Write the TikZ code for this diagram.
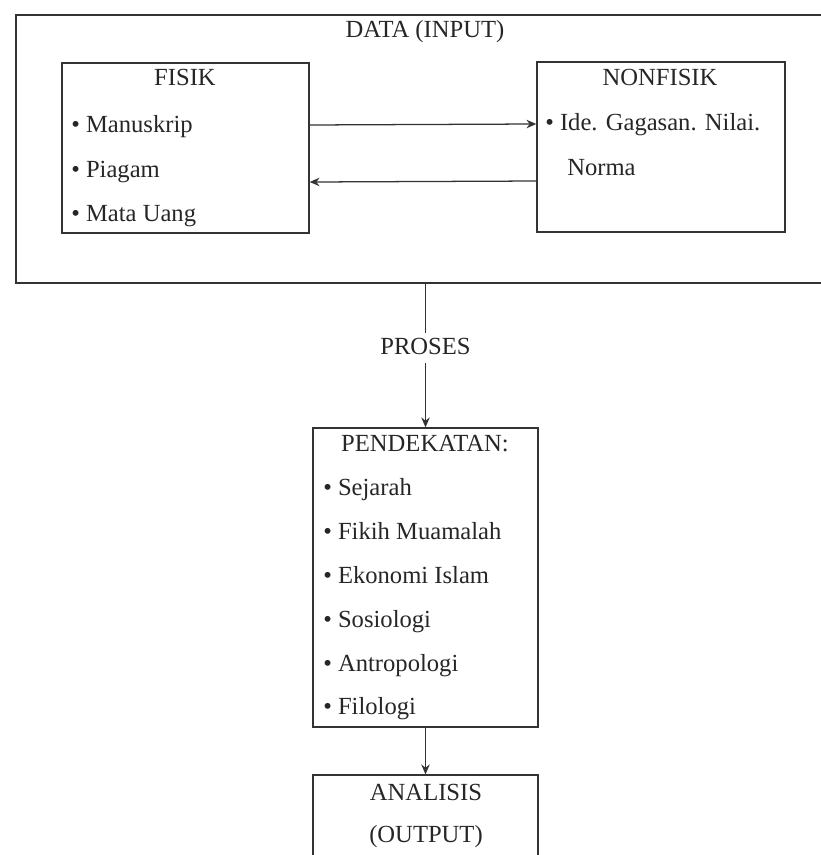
\documentclass[tikz,border=0pt]{standalone}
\usepackage{fontspec}
\setmainfont{Liberation Serif}
\usetikzlibrary{arrows.meta,positioning}

\begin{document}
\begin{tikzpicture}[
    x=0.025cm, y=-0.025cm,
    box/.style={rectangle, draw=black!80, line width=0.9pt, inner sep=0pt},
    txt/.style={inner sep=0pt, font=\fontsize{17.5}{21}\selectfont, text=black!85, text height=12pt, text depth=3.5pt},
    item/.style={txt, anchor=west},
    wire/.style={-{Stealth[length=7pt,width=6pt]}, line width=0.9pt, draw=black!80}
]
    \useasboundingbox (0,0) rectangle (821,855);

    % Input block: physical and non-physical data
    \node [box, minimum width=20.35cm, minimum height=6.7cm] (data) at (423,149) {};
    \node [txt] (data-title) at (425,32) {DATA (INPUT)};

    \node [box, minimum width=6.175cm, minimum height=4.25cm] (fisik) at (185.5,148) {};
    \node [txt] (fisik-title) at (185,80) {FISIK};
    \foreach \t [count=\i] in {Manuskrip, Piagam, Mata Uang}
        \node [item] (fisik-\i) at (71,{127+44.5*(\i-1)}) {\textbullet\ \t};

    \node [box, minimum width=6.2cm, minimum height=4.25cm] (nonfisik) at (661,147) {};
    \node [txt] (nonfisik-title) at (660,80) {NONFISIK};
    \node [item] (nonfisik-1) at (545,125) {\textbullet\ Ide. Gagasan. Nilai.};
    \node [item] (nonfisik-2) at (567,170) {Norma};

    % Process block: approaches
    \node [box, minimum width=5.625cm, minimum height=7.475cm] (pendekatan) at (425.5,577.5) {};
    \node [txt] (pendekatan-title) at (425,446) {PENDEKATAN:};
    \foreach \t [count=\i] in {Sejarah, Fikih Muamalah, Ekonomi Islam, Sosiologi, Antropologi, Filologi}
        \node [item] (pend-\i) at (323,{490+43.8*(\i-1)}) {\textbullet\ \t};

    % Output block
    \node [box, minimum width=5.625cm, minimum height=2.175cm] (analisis) at (425.5,818.5) {};
    \node [txt] (analisis-title) at (426,795) {ANALISIS};
    \node [txt] (analisis-sub) at (426,837) {(OUTPUT)};

    % Connections
    \draw [wire] ([yshift=0.575cm]fisik.east) -- ([yshift=0.575cm]nonfisik.west);
    \draw [wire] ([yshift=-0.85cm]nonfisik.west) -- ([yshift=-0.85cm]fisik.east);
    \draw [wire] (data.south -| pendekatan.north) -- node[txt, fill=white, inner sep=3pt, pos=0.45] (proses) {PROSES} (pendekatan.north);
    \draw [wire] (pendekatan.south) -- (analisis.north);
\end{tikzpicture}
\end{document}
